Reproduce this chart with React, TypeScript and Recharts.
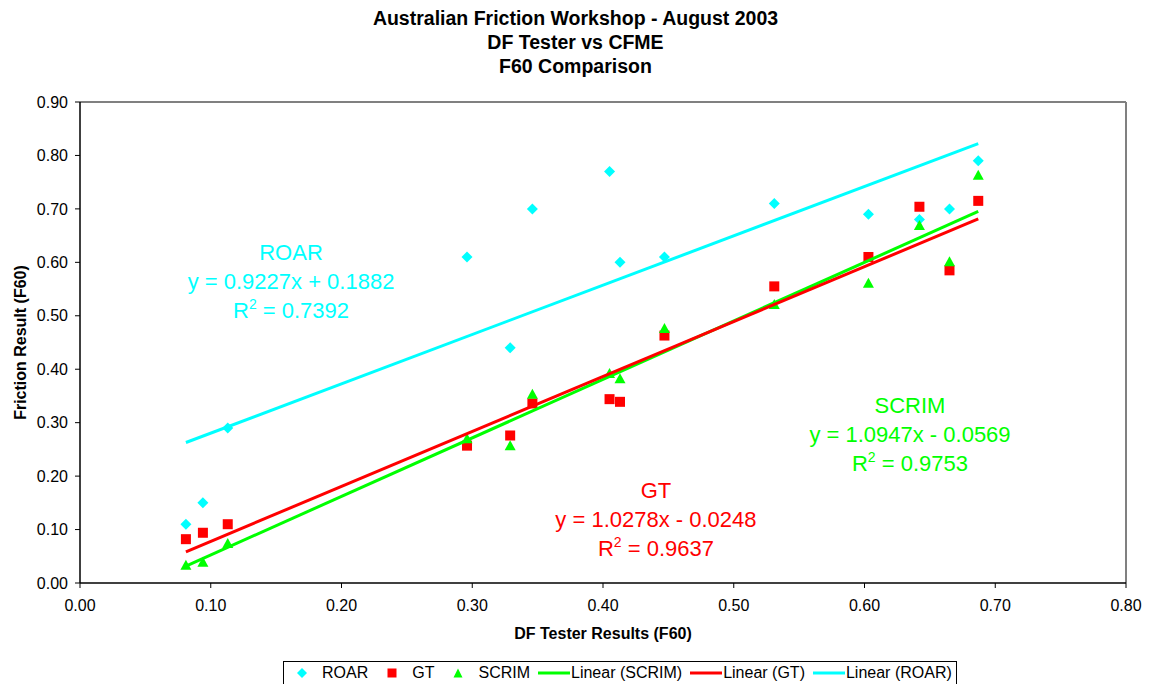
import React from 'react';
import {
  ScatterChart,
  Scatter,
  XAxis,
  YAxis,
  ReferenceLine,
  ReferenceDot,
  Legend,
} from 'recharts';

// ---------- data ----------
const titleLines = ['Australian Friction Workshop - August 2003', 'DF Tester vs CFME', 'F60 Comparison'];
const xAxisTitle = 'DF Tester Results (F60)';
const yAxisTitle = 'Friction Result (F60)';
const xTicks = [0, 0.1, 0.2, 0.3, 0.4, 0.5, 0.6, 0.7, 0.8];
const yTicks = [0, 0.1, 0.2, 0.3, 0.4, 0.5, 0.6, 0.7, 0.8, 0.9];

const dfTester = [0.081, 0.094, 0.113, 0.296, 0.329, 0.346, 0.405, 0.413, 0.447, 0.531, 0.603, 0.642, 0.665, 0.687];
const roar = [0.11, 0.15, 0.29, 0.61, 0.44, 0.70, 0.77, 0.60, 0.61, 0.71, 0.69, 0.68, 0.70, 0.79];
const gt = [0.082, 0.094, 0.11, 0.257, 0.276, 0.336, 0.344, 0.339, 0.463, 0.555, 0.61, 0.704, 0.585, 0.715];
const scrim = [0.033, 0.039, 0.074, 0.27, 0.257, 0.353, 0.392, 0.382, 0.476, 0.521, 0.561, 0.669, 0.601, 0.763];

// printed trendline equations (y = slope * x + intercept)
const trendNames = ['SCRIM', 'GT', 'ROAR'];
const trendSlopes = [1.0947, 1.0278, 0.9227];
const trendIntercepts = [-0.0569, -0.0248, 0.1882];
const trendR2 = ['0.9753', '0.9637', '0.7392'];
const trendEquations = ['y = 1.0947x - 0.0569', 'y = 1.0278x - 0.0248', 'y = 0.9227x + 0.1882'];

// ---------- styles ----------
const FONT = '"Liberation Sans", Arial, sans-serif';
const COLORS: Record<string, string> = { ROAR: '#00FFFF', GT: '#FF0000', SCRIM: '#00FF00' };
// annotation anchor (data coordinates of the equation line centre)
const annoAnchors: Record<string, { x: number; y: number }> = {
  ROAR: { x: 0.1614, y: 0.565 },
  GT: { x: 0.4405, y: 0.1205 },
  SCRIM: { x: 0.6348, y: 0.278 },
};

const toPoints = (ys: number[]) => dfTester.map((x, i) => ({ x, y: ys[i] }));
const roarData = toPoints(roar);
const gtData = toPoints(gt);
const scrimData = toPoints(scrim);

const xMin = Math.min(...dfTester);
const xMax = Math.max(...dfTester);
const trendData = trendNames.map((_, i) => [
  { x: xMin, y: trendSlopes[i] * xMin + trendIntercepts[i] },
  { x: xMax, y: trendSlopes[i] * xMax + trendIntercepts[i] },
]);

const fmt = (v: number) => v.toFixed(2);

const Diamond = (p: any) => (
  <polygon
    points={`${p.cx},${p.cy - 5.5} ${p.cx + 5.5},${p.cy} ${p.cx},${p.cy + 5.5} ${p.cx - 5.5},${p.cy}`}
    fill={COLORS.ROAR}
  />
);
const Square = (p: any) => <rect x={p.cx - 5} y={p.cy - 5} width={10} height={10} fill={COLORS.GT} />;
const Triangle = (p: any) => (
  <polygon
    points={`${p.cx},${p.cy - 5.5} ${p.cx + 5.5},${p.cy + 4.5} ${p.cx - 5.5},${p.cy + 4.5}`}
    fill={COLORS.SCRIM}
  />
);
const NoShape = () => <g />;

const renderAnno = (name: string, eq: string, r2: string) => (props: any) => {
  const vb = props.viewBox || {};
  const cx = (vb.x || 0) + (vb.width || 0) / 2;
  const cy = (vb.y || 0) + (vb.height || 0) / 2;
  const color = COLORS[name];
  return (
    <g>
      <text x={cx} y={cy - 29 + 8} textAnchor="middle" fill={color} fontSize={22} fontFamily={FONT}>
        {name}
      </text>
      <text x={cx} y={cy + 8} textAnchor="middle" fill={color} fontSize={22} fontFamily={FONT}>
        {eq}
      </text>
      <text x={cx} y={cy + 29 + 8} textAnchor="middle" fill={color} fontSize={22} fontFamily={FONT}>
        <tspan>R</tspan>
        <tspan dy={-9} fontSize={14}>2</tspan>
        <tspan dy={9}>{` = ${r2}`}</tspan>
      </text>
    </g>
  );
};

const renderXLabel = (props: any) => {
  const vb = props.viewBox;
  return (
    <text x={vb.x + vb.width / 2} y={vb.y + 56} textAnchor="middle" fontWeight="bold" fontSize={16} fontFamily={FONT} fill="#000">
      {xAxisTitle}
    </text>
  );
};

const renderYLabel = (props: any) => {
  const vb = props.viewBox;
  const x = 26;
  const y = vb.y + vb.height / 2;
  return (
    <text x={x} y={y} transform={`rotate(-90, ${x}, ${y})`} textAnchor="middle" fontWeight="bold" fontSize={16} fontFamily={FONT} fill="#000">
      {yAxisTitle}
    </text>
  );
};

const legendItems = [
  { label: 'ROAR', kind: 'diamond', color: COLORS.ROAR },
  { label: 'GT', kind: 'square', color: COLORS.GT },
  { label: 'SCRIM', kind: 'triangle', color: COLORS.SCRIM },
  { label: 'Linear (SCRIM)', kind: 'line', color: COLORS.SCRIM },
  { label: 'Linear (GT)', kind: 'line', color: COLORS.GT },
  { label: 'Linear (ROAR)', kind: 'line', color: COLORS.ROAR },
];

const LegendIcon = ({ kind, color }: { kind: string; color: string }) => {
  if (kind === 'line') {
    return (
      <svg width={32} height={10} style={{ display: 'block' }}>
        <line x1={0} y1={5} x2={32} y2={5} stroke={color} strokeWidth={3} />
      </svg>
    );
  }
  return (
    <svg width={12} height={12} style={{ display: 'block' }}>
      {kind === 'diamond' && <polygon points="6,1 11,6 6,11 1,6" fill={color} />}
      {kind === 'square' && <rect x={1.5} y={1.5} width={9} height={9} fill={color} />}
      {kind === 'triangle' && <polygon points="6,1.5 10.5,10.5 1.5,10.5" fill={color} />}
    </svg>
  );
};

const LegendBox = () => (
  <div
    style={{
      boxSizing: 'border-box',
      height: 24,
      width: '100%',
      border: '1px solid #000',
      display: 'flex',
      alignItems: 'center',
      paddingLeft: 12,
      fontFamily: FONT,
      fontSize: 16,
      color: '#000',
      whiteSpace: 'nowrap',
    }}
  >
    {legendItems.map((it, i) => {
      const isLine = it.kind === 'line';
      return (
        <div
          key={it.label}
          style={{ display: 'flex', alignItems: 'center', marginLeft: i === 0 ? 0 : isLine ? 8 : 18 }}
        >
          <LegendIcon kind={it.kind} color={it.color} />
          <span style={{ marginLeft: isLine ? 1 : 14 }}>{it.label}</span>
        </div>
      );
    })}
  </div>
);

export default function App() {
  return (
    <div style={{ position: 'fixed', left: 0, top: 0, width: 1151, height: 684, background: '#fff', fontFamily: FONT, overflow: 'hidden' }}>
      <div
        style={{
          position: 'absolute',
          top: 6,
          left: 0,
          width: 1151,
          textAlign: 'center',
          fontWeight: 'bold',
          fontSize: 19.5,
          lineHeight: '24px',
          color: '#000',
          fontFamily: FONT,
        }}
      >
        {titleLines.map((l) => (
          <div key={l}>{l}</div>
        ))}
      </div>
      <ScatterChart width={1151} height={684} margin={{ top: 102, right: 25, bottom: 0, left: 0 }} style={{ fontFamily: FONT }}>
        <XAxis
          type="number"
          dataKey="x"
          domain={[0, 0.8]}
          ticks={xTicks}
          tickFormatter={fmt}
          height={77}
          tickSize={5}
          tickMargin={12}
          axisLine={{ stroke: '#000', strokeWidth: 1.5 }}
          tickLine={{ stroke: '#000' }}
          tick={{ fill: '#000', fontSize: 16, fontFamily: FONT }}
          interval={0}
          allowDataOverflow
          label={renderXLabel}
        />
        <YAxis
          type="number"
          dataKey="y"
          domain={[0, 0.9]}
          ticks={yTicks}
          tickFormatter={fmt}
          width={80}
          tickSize={5}
          tickMargin={7}
          axisLine={{ stroke: '#000', strokeWidth: 1.5 }}
          tickLine={{ stroke: '#000' }}
          tick={{ fill: '#000', fontSize: 16, fontFamily: FONT }}
          interval={0}
          allowDataOverflow
          label={renderYLabel}
        />
        <ReferenceLine y={0.9} stroke="#808080" strokeWidth={2} />
        <ReferenceLine x={0.8} stroke="#808080" strokeWidth={2} />
        <Legend
          verticalAlign="bottom"
          wrapperStyle={{ left: 283, width: 674, bottom: -1 }}
          content={() => <LegendBox />}
        />
        <Scatter name="ROAR" data={roarData} shape={Diamond} isAnimationActive={false} />
        <Scatter name="GT" data={gtData} shape={Square} isAnimationActive={false} />
        <Scatter name="SCRIM" data={scrimData} shape={Triangle} isAnimationActive={false} />
        {trendNames.map((n, i) => (
          <Scatter
            key={n}
            name={`Linear (${n})`}
            data={trendData[i]}
            line={{ stroke: COLORS[n], strokeWidth: 3 }}
            shape={NoShape}
            legendType="none"
            isAnimationActive={false}
          />
        ))}
        {trendNames.map((n, i) => (
          <ReferenceDot
            key={`anno-${n}`}
            x={annoAnchors[n].x}
            y={annoAnchors[n].y}
            r={0}
            fill="none"
            stroke="none"
            label={renderAnno(n, trendEquations[i], trendR2[i])}
          />
        ))}
      </ScatterChart>
    </div>
  );
}
